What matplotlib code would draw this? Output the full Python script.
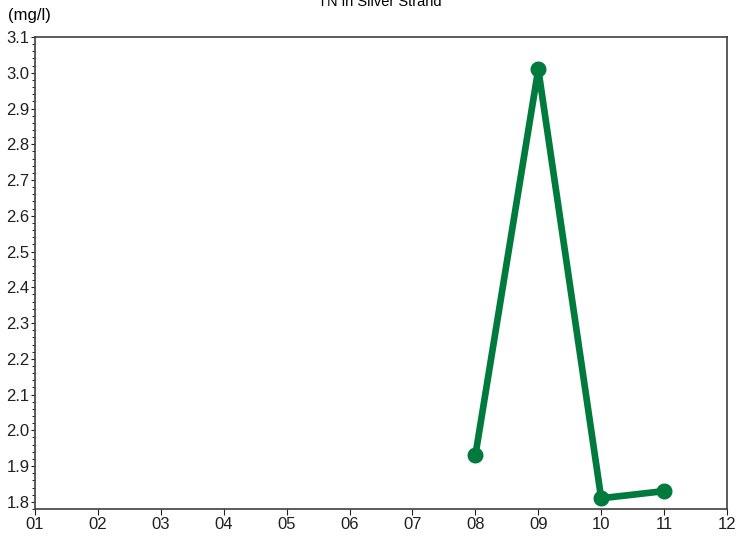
import matplotlib
matplotlib.use("Agg")
import matplotlib.pyplot as plt
from matplotlib.ticker import MultipleLocator

plt.rcParams['font.family'] = ['Liberation Sans', 'DejaVu Sans']

months = [8, 9, 10, 11]
tn = [1.93, 3.01, 1.81, 1.83]
xticks = list(range(1, 13))
xlabels = ["%02d" % m for m in xticks]

fig = plt.figure(figsize=(7.38, 5.42), dpi=100)
ax = fig.add_axes([0.0474, 0.0609, 0.9377, 0.8708])

ax.plot(months, tn, color="#007A3D", linewidth=4.8, marker="o",
        markersize=10.5, solid_joinstyle="round")

ax.set_xlim(1, 12)
ax.set_ylim(1.78, 3.1)
ax.set_xticks(xticks)
ax.set_xticklabels(xlabels)
ax.yaxis.set_major_locator(MultipleLocator(0.1))
ax.yaxis.set_minor_locator(MultipleLocator(0.02))
ax.yaxis.set_major_formatter(plt.FuncFormatter(lambda v, p: "%.1f" % v))

for s in ax.spines.values():
    s.set_color("#404040")
    s.set_linewidth(1.2)
ax.tick_params(axis="both", labelsize=12, colors="#202020", direction="out")
ax.tick_params(axis="x", length=4, pad=2)
ax.tick_params(axis="y", which="major", length=3, pad=1)
ax.tick_params(axis="y", which="minor", length=2)

fig.text(0.515, 0.997, "TN in Silver Strand", ha="center", va="center", fontsize=10.5)
fig.text(0.011, 0.972, "(mg/l)", ha="left", va="center", fontsize=12)

fig.savefig("out.png", dpi=100)
